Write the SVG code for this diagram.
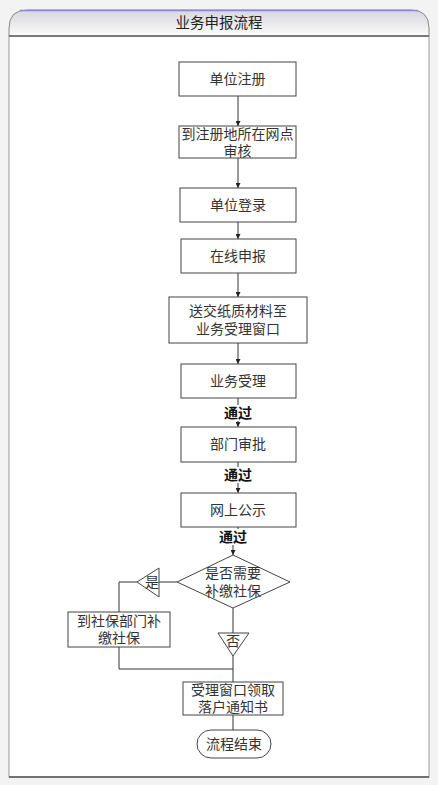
<svg xmlns="http://www.w3.org/2000/svg" width="438" height="785" viewBox="0 0 438 785">
<defs>
<linearGradient id="hdr" x1="0" y1="0" x2="0" y2="1">
<stop offset="0" stop-color="#d6d6dc"/>
<stop offset="1" stop-color="#fbfbfb"/>
</linearGradient>
<marker id="arr" viewBox="0 0 10 10" refX="10" refY="5" markerWidth="5" markerHeight="5" orient="auto" markerUnits="userSpaceOnUse">
<path d="M0,0 L10,5 L0,10 Z" fill="#222"/>
</marker>
</defs>
<style>
.box{fill:#fff;stroke:#444;stroke-width:1}
.t{font-family:"Liberation Serif","Noto Sans CJK SC",serif;font-size:14px;fill:#333;text-anchor:middle;dominant-baseline:central}
.lbl{font-family:"Liberation Serif","Noto Sans CJK SC",serif;font-size:14px;font-weight:bold;fill:#111;text-anchor:middle;dominant-baseline:central}
.ln{fill:none;stroke:#333;stroke-width:1}
</style>
<rect x="0" y="0" width="438" height="785" fill="#f3f3f3"/>
<g id="frame">
<rect x="9" y="36" width="420" height="741" fill="#fff" stroke="#999" stroke-width="1"/>
<path d="M9,36 L9,28 Q9,10 27,10 L411,10 Q429,10 429,28 L429,36 Z" fill="url(#hdr)" stroke="#888" stroke-width="1"/>
<path d="M20,10.5 L418,10.5" stroke="#8a8ad0" stroke-width="1.5"/>
<line x1="9" y1="36" x2="429" y2="36" stroke="#666" stroke-width="1.5"/>
<line x1="9" y1="777" x2="429" y2="777" stroke="#555" stroke-width="1.5"/>
<text class="t" x="219" y="23" style="font-size:14.5px;fill:#222">业务申报流程</text>
</g>
<g id="connectors">
<line class="ln" x1="238" y1="96" x2="238" y2="126" marker-end="url(#arr)"/>
<line class="ln" x1="238" y1="158" x2="238" y2="188" marker-end="url(#arr)"/>
<line class="ln" x1="238" y1="222" x2="238" y2="239" marker-end="url(#arr)"/>
<line class="ln" x1="238" y1="273" x2="238" y2="297" marker-end="url(#arr)"/>
<line class="ln" x1="238" y1="343" x2="238" y2="364" marker-end="url(#arr)"/>
<line class="ln" x1="238" y1="398" x2="238" y2="427" marker-end="url(#arr)"/>
<line class="ln" x1="238" y1="462" x2="238" y2="493" marker-end="url(#arr)"/>
<path class="ln" d="M238,527 L238,537 L233,537 L233,555" marker-end="url(#arr)"/>
<line class="ln" x1="177" y1="582" x2="159" y2="582"/>
<path class="ln" d="M137,582 L119,582 L119,612"/>
<path class="ln" d="M119,647 L119,669 L233,669"/>
<line class="ln" x1="233" y1="608" x2="233" y2="633"/>
<line class="ln" x1="233" y1="656" x2="233" y2="682"/>
<line class="ln" x1="233" y1="715" x2="233" y2="730"/>
<rect x="221" y="405" width="34" height="16" fill="#fff"/>
<text class="lbl" x="238" y="413">通过</text>
<rect x="221" y="467" width="34" height="16" fill="#fff"/>
<text class="lbl" x="238" y="475">通过</text>
<rect x="216" y="529" width="34" height="16" fill="#fff"/>
<text class="lbl" x="233" y="537">通过</text>
</g>
<g id="n1"><rect class="box" x="179" y="62" width="117" height="34"/><text class="t" x="237.5" y="79">单位注册</text></g>
<g id="n2"><rect class="box" x="179" y="126" width="117" height="32"/><text class="t"><tspan x="237.5" y="134">到注册地所在网点</tspan><tspan x="237.5" y="150.5">审核</tspan></text></g>
<g id="n3"><rect class="box" x="180" y="188" width="116" height="34"/><text class="t" x="238" y="205">单位登录</text></g>
<g id="n4"><rect class="box" x="181" y="239" width="115" height="34"/><text class="t" x="238" y="256">在线申报</text></g>
<g id="n5"><rect class="box" x="169" y="297" width="138" height="46"/><text class="t"><tspan x="238" y="311">送交纸质材料至</tspan><tspan x="238" y="329">业务受理窗口</tspan></text></g>
<g id="n6"><rect class="box" x="181" y="364" width="115" height="34"/><text class="t" x="238" y="381">业务受理</text></g>
<g id="n7"><rect class="box" x="181" y="427" width="115" height="35"/><text class="t" x="238" y="444.5">部门审批</text></g>
<g id="n8"><rect class="box" x="181" y="493" width="115" height="34"/><text class="t" x="238" y="510">网上公示</text></g>
<g id="n9"><path class="box" d="M233,555 L290,582 L233,608 L177,582 Z"/><text class="t"><tspan x="233" y="573">是否需要</tspan><tspan x="233" y="591">补缴社保</tspan></text></g>
<g id="n10"><path class="box" d="M137,582 L159,568 L159,597 Z"/><text class="t" x="152" y="582">是</text></g>
<g id="n11"><rect class="box" x="68" y="612" width="102" height="35"/><text class="t"><tspan x="119" y="621">到社保部门补</tspan><tspan x="119" y="638">缴社保</tspan></text></g>
<g id="n12"><path class="box" d="M218,633 L249,633 L233,656 Z"/><text class="t" x="233" y="641">否</text></g>
<g id="n13"><rect class="box" x="183" y="682" width="100" height="33"/><text class="t"><tspan x="233" y="690">受理窗口领取</tspan><tspan x="233" y="707">落户通知书</tspan></text></g>
<g id="n14"><rect class="box" x="197" y="730" width="74" height="28" rx="14" ry="14"/><text class="t" x="234" y="744">流程结束</text></g>
</svg>
